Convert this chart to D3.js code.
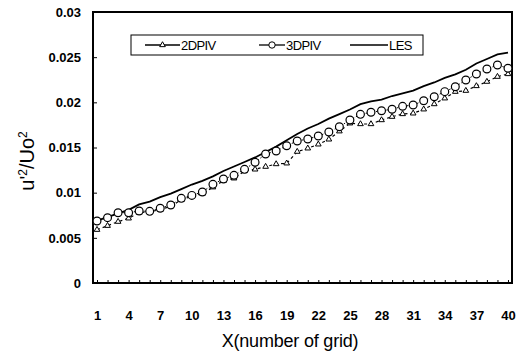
<!DOCTYPE html>
<html>
<head>
<meta charset="UTF-8">
<script src="https://d3js.org/d3.v7.min.js"></script>
<style>
    body { margin: 0; background: #ffffff; }
    svg { display: block; font-family: "Liberation Sans", Arial, sans-serif; }
    .tick text { font-weight: bold; font-size: 13px; fill: #000; }
</style>
</head>
<body>
<div id="chart"></div>
<script>
    const grid = d3.range(1, 41);
    const xLabels = [1, 4, 7, 10, 13, 16, 19, 22, 25, 28, 31, 34, 37, 40];
    const yTicks = [0, 0.005, 0.01, 0.015, 0.02, 0.025, 0.03];

    const piv2d = [0.00590, 0.00634, 0.00679, 0.00716, 0.00780, 0.00790, 0.00810, 0.00850,
        0.00920, 0.00960, 0.00990, 0.01060, 0.01132, 0.01159, 0.01240, 0.01258,
        0.01288, 0.01317, 0.01325, 0.01454, 0.01491, 0.01535, 0.01590, 0.01680,
        0.01768, 0.01760, 0.01760, 0.01804, 0.01841, 0.01871, 0.01878, 0.01923,
        0.01981, 0.02045, 0.02118, 0.02129, 0.02181, 0.02229, 0.02284, 0.02314];

    const piv3d = [0.00686, 0.00723, 0.00778, 0.00778, 0.00797, 0.00793, 0.00827, 0.00863,
        0.00937, 0.00970, 0.01007, 0.01092, 0.01151, 0.01192, 0.01258, 0.01336,
        0.01428, 0.01461, 0.01520, 0.01572, 0.01594, 0.01627, 0.01672, 0.01730,
        0.01804, 0.01867, 0.01890, 0.01907, 0.01923, 0.01956, 0.01970, 0.02018,
        0.02062, 0.02118, 0.02173, 0.02247, 0.02314, 0.02369, 0.02413, 0.02377];

    const les = [0.0069, 0.0073, 0.0077, 0.0081, 0.0087, 0.0090, 0.0095, 0.0099,
        0.0104, 0.0109, 0.0113, 0.0118, 0.0124, 0.0129, 0.0134, 0.0139,
        0.0145, 0.0151, 0.0158, 0.0165, 0.0171, 0.0176, 0.0182, 0.0187,
        0.0192, 0.0198, 0.0201, 0.0203, 0.0207, 0.0210, 0.0213, 0.0218,
        0.0222, 0.0227, 0.0231, 0.0236, 0.0243, 0.0248, 0.0253, 0.0255];

    const width = 525, height = 353;
    const margin = { top: 12, right: 13, bottom: 70, left: 93 };

    const svg = d3.select('#chart').append('svg')
        .attr('width', width)
        .attr('height', height);

    const x = d3.scaleLinear().domain([0.62, 40.38]).range([margin.left, width - margin.right]);
    const y = d3.scaleLinear().domain([0, 0.03]).range([height - margin.bottom, margin.top]);

    // y axis
    svg.append('g')
        .attr('transform', `translate(${margin.left},0)`)
        .call(d3.axisLeft(y).tickValues(yTicks).tickSizeInner(-4).tickSizeOuter(0).tickPadding(12)
            .tickFormat(d => d === 0 ? '0' : String(+d.toFixed(3))))
        .call(g => g.select('.domain').remove())
        .call(g => g.selectAll('.tick line').attr('stroke-width', 1));

    // x axis
    svg.append('g')
        .attr('transform', `translate(0,${height - margin.bottom})`)
        .call(d3.axisBottom(x).tickValues(grid).tickSizeInner(-3).tickSizeOuter(0).tickPadding(28)
            .tickFormat(d => xLabels.includes(d) ? d : ''))
        .call(g => g.select('.domain').remove())
        .call(g => g.selectAll('.tick line').attr('stroke-width', 1));

    // frame
    svg.append('rect')
        .attr('x', margin.left)
        .attr('y', margin.top)
        .attr('width', width - margin.left - margin.right)
        .attr('height', height - margin.top - margin.bottom)
        .attr('fill', 'none')
        .attr('stroke', '#000')
        .attr('stroke-width', 2);

    const line = d3.line().x((d, i) => x(grid[i])).y(d => y(d));

    // LES
    svg.append('path')
        .datum(les)
        .attr('d', line)
        .attr('fill', 'none')
        .attr('stroke', '#000')
        .attr('stroke-width', 1.8);

    // 2DPIV
    svg.append('path')
        .datum(piv2d)
        .attr('d', line)
        .attr('fill', 'none')
        .attr('stroke', '#000')
        .attr('stroke-width', 1.2)
        .attr('stroke-dasharray', '3,3');

    const tri = d3.symbol().type(d3.symbolTriangle).size(14);
    svg.append('g').selectAll('path')
        .data(piv2d)
        .join('path')
        .attr('d', tri)
        .attr('transform', (d, i) => `translate(${x(grid[i])},${y(d)})`)
        .attr('fill', '#fff')
        .attr('stroke', '#000')
        .attr('stroke-width', 1);

    // 3DPIV
    svg.append('path')
        .datum(piv3d)
        .attr('d', line)
        .attr('fill', 'none')
        .attr('stroke', '#000')
        .attr('stroke-width', 1)
        .attr('stroke-dasharray', '1.5,2');

    svg.append('g').selectAll('circle')
        .data(piv3d)
        .join('circle')
        .attr('cx', (d, i) => x(grid[i]))
        .attr('cy', d => y(d))
        .attr('r', 3.9)
        .attr('fill', '#fff')
        .attr('stroke', '#000')
        .attr('stroke-width', 1.2);

    // legend
    const legend = svg.append('g');
    legend.append('rect')
        .attr('x', 131).attr('y', 35)
        .attr('width', 292).attr('height', 20)
        .attr('fill', '#fff')
        .attr('stroke', '#000')
        .attr('stroke-width', 1);

    const items = [
        { name: '2DPIV', x0: 145, x1: 180, sym: 'tri' },
        { name: '3DPIV', x0: 259, x1: 285, sym: 'circle' },
        { name: 'LES', x0: 350, x1: 388, sym: null }
    ];
    items.forEach(it => {
        legend.append('line')
            .attr('x1', it.x0).attr('x2', it.x1)
            .attr('y1', 45).attr('y2', 45)
            .attr('stroke', '#000').attr('stroke-width', 1.3);
        const mx = (it.x0 + it.x1) / 2;
        if (it.sym === 'tri') {
            legend.append('path').attr('d', tri)
                .attr('transform', `translate(${mx},45)`)
                .attr('fill', '#fff').attr('stroke', '#000');
        } else if (it.sym === 'circle') {
            legend.append('circle').attr('cx', mx).attr('cy', 45).attr('r', 3.2)
                .attr('fill', '#fff').attr('stroke', '#000');
        }
        legend.append('text')
            .attr('x', it.x1 + 1).attr('y', 49.5)
            .attr('font-size', 13)
            .attr('letter-spacing', -0.6)
            .text(it.name);
    });

    // axis titles
    svg.append('text')
        .attr('x', 290).attr('y', 347)
        .attr('text-anchor', 'middle')
        .attr('font-size', 18)
        .attr('letter-spacing', -0.2)
        .text('X(number of grid)');

    const yt = svg.append('text')
        .attr('transform', 'translate(34,161) rotate(-90)')
        .attr('text-anchor', 'middle')
        .attr('font-size', 20);
    yt.append('tspan').text('u\'');
    yt.append('tspan').attr('dy', -7).attr('font-size', 12).text('2');
    yt.append('tspan').attr('dy', 7).text('/Uo');
    yt.append('tspan').attr('dy', -7).attr('font-size', 12).text('2');
</script>
</body>
</html>
